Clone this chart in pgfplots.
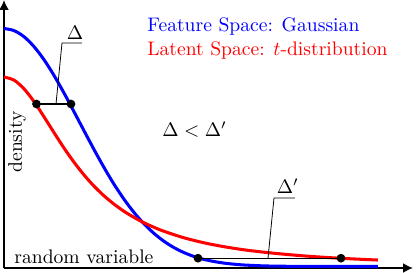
\documentclass[border=0pt]{standalone}
\usepackage{pgfplots}
\pgfplotsset{compat=1.18}
\usetikzlibrary{arrows.meta}
\begin{document}
\begin{tikzpicture}
\begin{axis}[
  x=0.51pt, y=0.51pt,
  xmin=0, xmax=409, ymin=0, ymax=268,
  axis lines=left,
  axis line style={line width=0.85pt, -{Latex[length=5pt,width=5pt]}},
  xtick=\empty, ytick=\empty,
  clip=false,
]
\coordinate (bl) at (axis cs:-4,-5);
\coordinate (tr) at (axis cs:412,268);
% Gaussian (feature space)
\addplot[blue, line width=1.55pt, smooth] coordinates {
(0,239.5) (10,237.4) (20,231.3) (30,221.4) (40,208.3) (50,192.6) (60,175.0)
(70,156.3) (80,137.3) (90,118.5) (100,100.5) (110,83.8) (120,68.8) (130,55.5)
(140,44.2) (150,34.6) (160,26.7) (170,20.4) (180,15.4) (190,11.5) (200,8.6)
(210,6.5) (220,4.9) (230,3.8) (240,3.0) (260,2.1) (280,1.75) (300,1.6)
(340,1.5) (374,1.5)};
% t-distribution (latent space)
\addplot[red, line width=1.55pt, smooth] coordinates {
(0,191) (10,187.9) (20,179.2) (30,166.4) (40,151.2) (50,135.4) (60,120.0)
(70,105.8) (80,93.1) (90,81.9) (100,72.2) (110,63.9) (120,56.7) (130,50.6)
(140,45.2) (150,40.7) (160,36.7) (180,30.2) (200,25.2) (220,21.3) (240,18.2)
(260,15.8) (280,13.8) (300,12.1) (320,10.7) (340,9.55) (360,8.56) (374,7.96)};
% Delta segments
\addplot[black, line width=0.7pt, mark=*, mark size=1.85pt] coordinates {(32.5,164) (67,164)};
\addplot[black, line width=0.7pt, mark=*, mark size=1.85pt] coordinates {(194,9.8) (337,9.8)};
% leader lines
\addplot[black, line width=0.4pt] coordinates {(52,164) (58,225) (78,225)};
\addplot[black, line width=0.4pt] coordinates {(264,9.8) (270,70) (291,70)};
% labels
\node[anchor=base west, inner sep=0pt] at (axis cs:62.5,229) {$\Delta$};
\node[anchor=base west, inner sep=0pt] at (axis cs:272.5,74.7) {$\Delta'$};
\node[anchor=base west, inner sep=0pt] at (axis cs:158,131) {$\Delta < \Delta'$};
\node[anchor=base west, inner sep=0pt, text=blue] at (axis cs:143,236) {Feature Space: Gaussian};
\node[anchor=base west, inner sep=0pt, text=red] at (axis cs:143,213) {Latent Space: $t$-distribution};
\node[anchor=base west, inner sep=0pt] at (axis cs:10,4.7) {random variable};
\node[anchor=base west, inner sep=0pt, rotate=90] at (axis cs:18,95) {density};
\end{axis}
\pgfresetboundingbox
\useasboundingbox (bl) rectangle (tr);
\end{tikzpicture}
\end{document}
